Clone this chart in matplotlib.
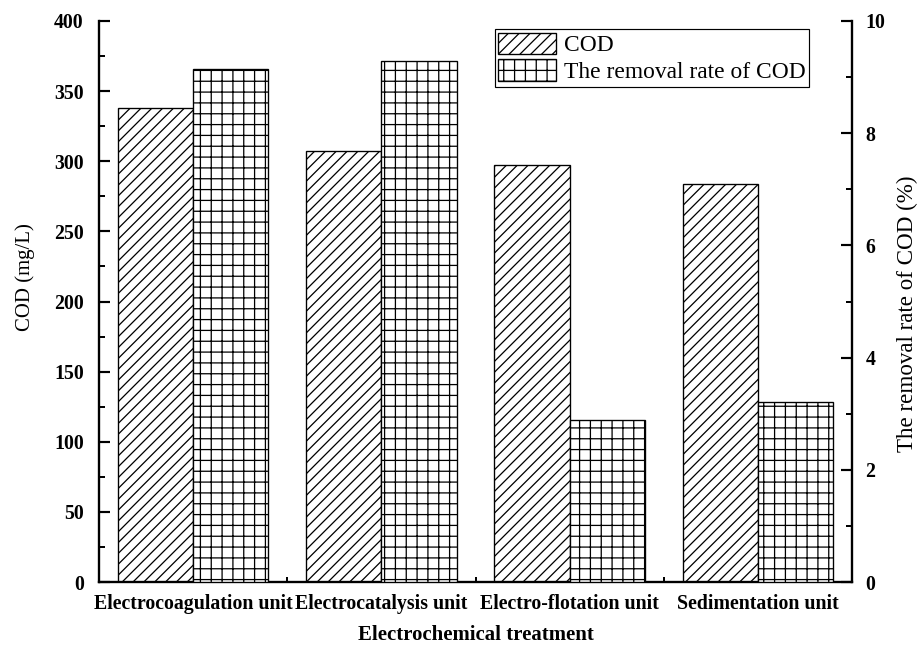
import numpy as np
import matplotlib
matplotlib.use("Agg")
import matplotlib.pyplot as plt
from matplotlib.ticker import MultipleLocator, FixedLocator

plt.rcParams['font.family'] = ['Liberation Serif', 'DejaVu Serif']
plt.rcParams['hatch.linewidth'] = 1.4

units = ['Electrocoagulation unit', 'Electrocatalysis unit',
         'Electro-flotation unit', 'Sedimentation unit']
cod = [338, 307, 297, 284]
removal = [9.14, 9.29, 2.89, 3.20]

W, H, DPI = 920, 650, 65
fig = plt.figure(figsize=(W / DPI, H / DPI), dpi=DPI)
ax = fig.add_axes([99 / W, 1 - 582 / H, 753 / W, 561 / H])
ax2 = ax.twinx()

x = np.arange(len(units))
width = 0.4
b1 = ax.bar(x - width / 2, cod, width, facecolor='white', edgecolor='black',
            linewidth=1.5, hatch='//', label='COD')
b2 = ax2.bar(x + width / 2, removal, width, facecolor='white', edgecolor='black',
             linewidth=1.5, hatch='+', label='The removal rate of COD')

ax.set_xlim(-0.5, 3.5)
ax.set_ylim(0, 400)
ax2.set_ylim(0, 10)

ax.spines['top'].set_visible(False)
ax.spines['right'].set_visible(False)
for s in ['top', 'left', 'bottom']:
    ax2.spines[s].set_visible(False)
for s in ax.spines.values():
    s.set_linewidth(2.6)
ax2.spines['right'].set_linewidth(2.6)

ax.yaxis.set_major_locator(MultipleLocator(50))
ax.yaxis.set_minor_locator(MultipleLocator(25))
ax2.yaxis.set_major_locator(MultipleLocator(2))
ax2.yaxis.set_minor_locator(MultipleLocator(1))
ax.set_xticks(x)
ax.set_xticklabels(units, fontweight='bold', fontsize=22)
ax.xaxis.set_minor_locator(FixedLocator([0.5, 1.5, 2.5]))

ax.tick_params(axis='y', which='major', direction='in', length=12, width=2.4,
               pad=17, labelsize=22)
ax.tick_params(axis='y', which='minor', direction='in', length=6.5, width=2.2)
ax.tick_params(axis='x', which='major', length=0, pad=13)
ax.tick_params(axis='x', which='minor', direction='in', length=5.5, width=2.2)
ax2.tick_params(axis='y', which='major', direction='in', length=12, width=2.4,
                pad=15, labelsize=22)
ax2.tick_params(axis='y', which='minor', direction='in', length=6.5, width=2.2)
for lab in ax.get_yticklabels() + ax2.get_yticklabels():
    lab.set_fontweight('bold')

ax.set_ylabel('COD (mg/L)', fontsize=23)
ax.yaxis.set_label_coords(-0.085, 0.544)
ax2.set_ylabel('The removal rate of COD (%)', fontsize=25.5)
ax2.yaxis.set_label_coords(1.06, 0.478)
ax.set_xlabel('Electrochemical treatment', fontsize=23, fontweight='bold')
ax.xaxis.set_label_coords(0.5, -0.076)
ax.xaxis.label.set_verticalalignment('top')

leg = ax2.legend([b1, b2], ['COD', 'The removal rate of COD'],
                 loc='upper right', bbox_to_anchor=(809 / W, 1 - 29 / H),
                 bbox_transform=fig.transFigure, borderaxespad=0,
                 fontsize=26, fancybox=False, edgecolor='black',
                 framealpha=1, handlelength=2.45, handleheight=1.05,
                 handletextpad=0.34, labelspacing=0.12, borderpad=0.15)
leg.get_frame().set_linewidth(1.3)

fig.savefig('out.png', dpi=DPI)
